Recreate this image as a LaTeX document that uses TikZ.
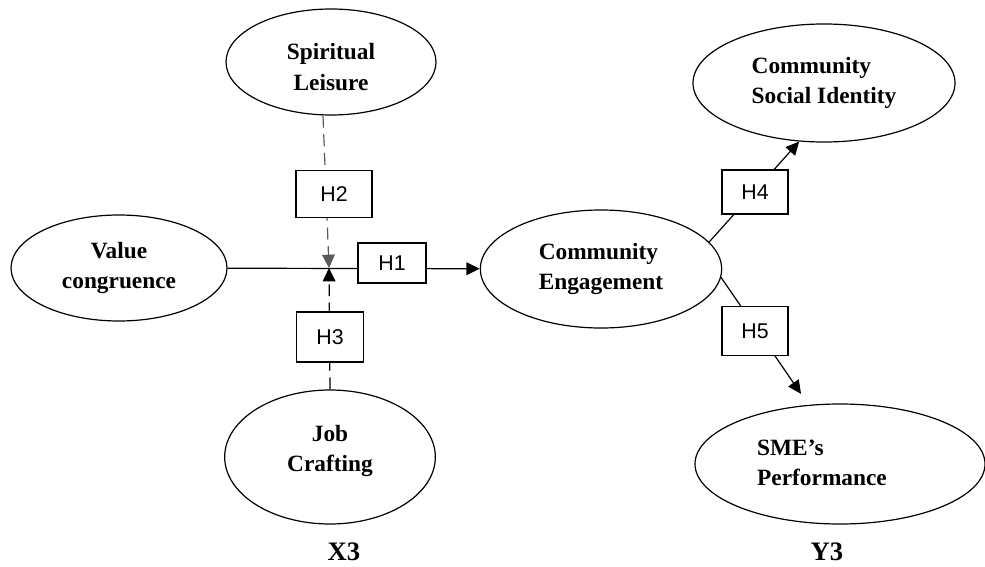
\documentclass[tikz,border=0pt]{standalone}
\usepackage{fontspec}
\setmainfont{Liberation Serif}
\newfontfamily\hfont{Liberation Sans}
\usetikzlibrary{shapes, arrows.meta, positioning, calc}

\tikzset{
  construct/.style={ellipse, draw, line width=0.9pt, inner sep=0pt, align=center,
                    font=\fontsize{17.5}{23}\selectfont\bfseries},
  hyp/.style={rectangle, draw, fill=white, line width=0.8pt,
              font=\hfont\fontsize{16}{18}\selectfont},
  effect/.style={line width=0.9pt, -{Triangle[length=10pt,width=9.5pt]}},
  moder/.style={effect, dash pattern=on 9pt off 5pt},
  grp/.style={font=\fontsize{20}{24}\selectfont\bfseries},
}

\begin{document}
\begin{tikzpicture}[x=0.75pt,y=-0.75pt]
\useasboundingbox (0,0) rectangle (985,567);

% the constructs
\node[construct, minimum width=157.5pt, minimum height=79.5pt] (sl) at (331,62) {};
\node[construct, minimum width=162pt, minimum height=79.5pt] (vc) at (119,268) {Value\\congruence};
\node[construct, minimum width=158pt, minimum height=100.5pt] (jc) at (330,457) {};
\node[construct, minimum width=181pt, minimum height=88.5pt, align=left] (ce) at (601,269) {Community\\Engagement};
\node[construct, minimum width=196.5pt, minimum height=88.5pt, align=left] (csi) at (824,83) {Community\\Social Identity};
\node[construct, minimum width=217.5pt, minimum height=90pt] (sme) at (840,464) {};
% texts that sit off the middle of their ellipse
\node[font=\fontsize{17.5}{23}\selectfont\bfseries, align=center] (sltext) at (331,67) {Spiritual\\Leisure};
\node[font=\fontsize{17.5}{23}\selectfont\bfseries, align=center] (jctext) at (330,451) {Job\\Crafting};
\node[font=\fontsize{17.5}{23}\selectfont\bfseries, align=left] (smetext) at (822,463) {SME’s\\Performance};

% where the moderators meet the main path
\coordinate (jn) at (329,268);

% paths
\draw[effect] (vc) -- (ce);
\draw[moder, black!65] ([xshift=-6pt]sl.south) -- (jn);
\draw[moder] (jc.north) -- (jn);
\draw[effect] (ce.14) -- (csi.247);
\draw[effect, shorten >=10pt] (ce.-4) -- (sme.118);

% hypothesis boxes on top of the paths
\foreach \n/\t/\x/\y/\w/\h in {h1/H1/392/263/51/30,
                               h2/H2/334/194/57/35,
                               h3/H3/330/337/50/37.5,
                               h4/H4/755/192/49.5/33,
                               h5/H5/755/331/49.5/37} {
    \node[hyp, minimum width=\w pt, minimum height=\h pt] (\n) at (\x,\y) {\t};
}

% group labels
\node[grp] (x3) at (344,552) {X3};
\node[grp] (y3) at (827,552) {Y3};
\end{tikzpicture}
\end{document}
